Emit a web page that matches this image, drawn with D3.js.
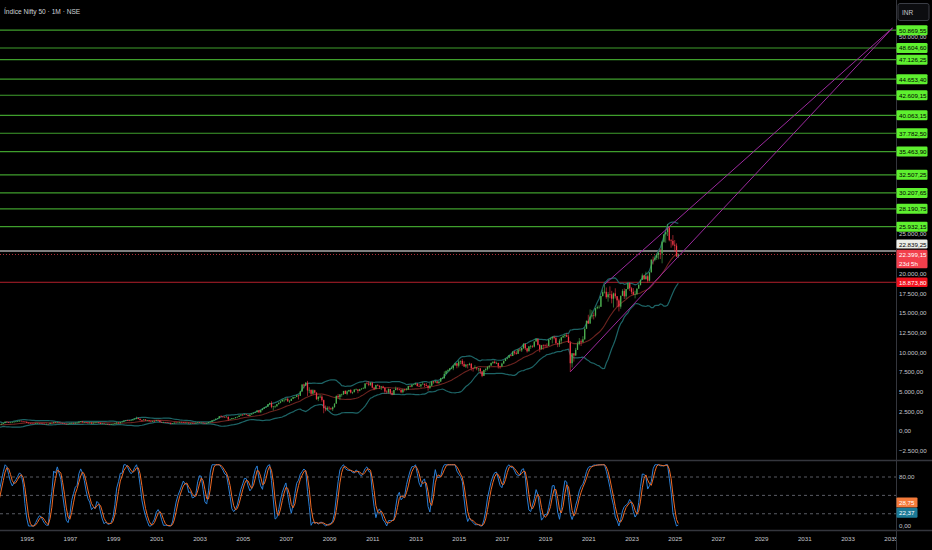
<!DOCTYPE html>
<html><head><meta charset="utf-8">
<script src="https://cdn.jsdelivr.net/npm/d3@7"></script>
<style>body{margin:0;background:#000;}svg{display:block;}</style>
</head><body><svg id="c" width="932" height="550"></svg>
<script>
// ---------------- DATA ----------------
const startYear = 1991; // monthly bars, January 1991 onward (early part off-screen)
const closes = [
/*1991*/ 330,365,375,395,410,400,450,505,530,515,545,570,
/*1992*/ 700,900,1250,1280,1000,920,860,790,900,850,770,760,
/*1993*/ 720,740,650,620,650,700,730,770,790,810,920,1030,
/*1994*/ 1180,1150,1050,1080,1110,1170,1200,1240,1290,1250,1200,1180,
/*1995*/ 1050,1000,960,950,930,990,1000,985,975,935,900,908,
/*1996*/ 890,1030,985,1100,1080,1110,1050,1030,950,910,880,900,
/*1997*/ 970,1030,970,1050,1060,1190,1230,1110,1130,1080,980,1080,
/*1998*/ 960,1070,1110,1120,1050,910,950,880,900,870,850,884,
/*1999*/ 900,960,1080,980,1130,1190,1310,1380,1340,1300,1350,1480,
/*2000*/ 1550,1650,1530,1400,1370,1470,1330,1330,1230,1170,1270,1264,
/*2001*/ 1370,1350,1150,1130,1140,1100,1070,1050,910,970,1070,1060,
/*2002*/ 1075,1140,1130,1080,1030,1060,960,1010,960,950,1040,1094,
/*2003*/ 1040,1050,980,930,1010,1130,1180,1350,1420,1560,1620,1880,
/*2004*/ 1810,1800,1770,1800,1480,1510,1630,1630,1750,1790,1960,2080,
/*2005*/ 2060,2100,2035,1900,2090,2220,2310,2385,2600,2370,2650,2837,
/*2006*/ 3000,3075,3400,3560,3070,3130,3140,3410,3590,3750,3950,3966,
/*2007*/ 4080,3750,3820,4090,4300,4320,4530,4460,5020,5900,5760,6139,
/*2008*/ 5140,5220,4730,5170,4870,4040,4330,4360,3920,2890,2760,2959,
/*2009*/ 2870,2760,3020,3470,4450,4290,4640,4660,5080,4710,5030,5201,
/*2010*/ 4880,4920,5250,5280,5090,5310,5370,5400,6030,6020,5860,6135,
/*2011*/ 5500,5330,5830,5750,5560,5650,5480,5000,4940,5330,4830,4624,
/*2012*/ 5200,5390,5300,5250,4920,5280,5230,5260,5700,5620,5880,5905,
/*2013*/ 6030,5690,5680,5930,5990,5840,5740,5470,5740,6300,6180,6304,
/*2014*/ 6090,6280,6700,6700,7230,7610,7720,7950,7960,8320,8590,8283,
/*2015*/ 8810,8900,8490,8180,8430,8370,8530,7970,7950,8070,7940,7946,
/*2016*/ 7560,6990,7740,7850,8160,8290,8640,8790,8610,8630,8220,8186,
/*2017*/ 8560,8880,9170,9300,9620,9520,10080,9920,9790,10340,10230,10531,
/*2018*/ 11030,10490,10110,10740,10740,10710,11360,11680,10930,10390,10880,10863,
/*2019*/ 10830,10790,11620,11750,11920,11790,11120,11020,11470,11880,12060,12168,
/*2020*/ 11960,11200,8600,9860,9580,10300,11070,11390,11250,11640,12970,13982,
/*2021*/ 13630,14530,14690,14630,15580,15720,15760,17130,17620,17670,16980,17354,
/*2022*/ 17340,16790,17460,17100,16580,15780,17160,17760,17090,18010,18760,18105,
/*2023*/ 17660,17300,17360,18070,18530,19190,19750,19250,19640,19080,20130,21731,
/*2024*/ 21730,21980,22330,22600,22530,24010,24950,25240,25810,24210,24130,23645,
/*2025*/ 23510,22125,22399.15
];
const highs = [
/*1991*/ 345,370,390,405,425,420,460,515,545,540,555,580,
/*1992*/ 720,920,1300,1380,1290,1030,950,880,920,920,860,800,
/*1993*/ 780,770,760,670,670,720,750,790,820,830,930,1050,
/*1994*/ 1230,1220,1160,1100,1130,1190,1220,1260,1320,1300,1260,1220,
/*1995*/ 1190,1070,1020,990,960,1000,1030,1020,1010,985,940,940,
/*1996*/ 930,1050,1040,1130,1140,1150,1120,1060,1050,960,920,910,
/*1997*/ 990,1060,1050,1080,1080,1200,1250,1230,1140,1140,1080,1090,
/*1998*/ 1090,1080,1150,1170,1130,1060,990,950,920,900,880,900,
/*1999*/ 930,980,1100,1100,1140,1200,1330,1400,1420,1400,1360,1490,
/*2000*/ 1620,1820,1700,1580,1420,1500,1480,1400,1390,1250,1300,1340,
/*2001*/ 1420,1440,1390,1180,1180,1160,1130,1090,1060,1000,1090,1110,
/*2002*/ 1090,1170,1180,1150,1090,1080,1080,1020,1020,980,1050,1110,
/*2003*/ 1110,1080,1070,990,1020,1140,1200,1360,1450,1570,1630,1900,
/*2004*/ 2010,1880,1850,1910,1850,1560,1650,1660,1760,1850,1970,2090,
/*2005*/ 2120,2120,2180,2070,2100,2240,2330,2400,2640,2670,2680,2850,
/*2006*/ 3020,3110,3420,3600,3780,3140,3250,3420,3610,3800,4000,4050,
/*2007*/ 4170,4250,3930,4100,4320,4340,4620,4550,5060,5930,6010,6190,
/*2008*/ 6360,5550,5270,5300,5230,4910,4450,4650,4560,3990,3240,3150,
/*2009*/ 3150,2970,3120,3520,4510,4700,4670,4740,5090,5180,5140,5220,
/*2010*/ 5310,4990,5330,5400,5280,5350,5450,5550,6070,6290,6340,6150,
/*2011*/ 6180,5600,5870,5950,5780,5700,5740,5550,5170,5400,5330,5100,
/*2012*/ 5220,5630,5500,5380,5280,5290,5350,5450,5740,5820,5890,5960,
/*2013*/ 6110,6050,5970,5960,6230,6010,6090,5810,6140,6310,6340,6420,
/*2014*/ 6360,6290,6750,6870,7560,7700,7840,7970,8180,8330,8620,8630,
/*2015*/ 8990,8940,9120,8850,8490,8470,8660,8620,8060,8340,8120,7980,
/*2016*/ 7970,7600,7780,7980,8180,8310,8680,8820,8970,8810,8670,8280,
/*2017*/ 8670,8980,9220,9370,9650,9710,10110,10140,10180,10370,10490,10550,
/*2018*/ 11170,11120,10530,10760,10930,10890,11370,11760,11750,11030,10920,10990,
/*2019*/ 10990,11120,11630,11860,12040,12100,11980,11180,11700,11950,12160,12290,
/*2020*/ 12430,12250,11430,9890,9600,10550,11340,11800,11620,12030,13150,14020,
/*2021*/ 14750,15430,15340,15040,15610,15920,15960,17150,17950,18600,18210,17640,
/*2022*/ 18350,17790,17560,18110,17130,16790,17170,17990,18100,18020,18820,18890,
/*2023*/ 18250,18130,17800,18090,18660,19200,19990,19800,20220,19850,20160,21800,
/*2024*/ 22130,22300,22530,22790,23110,24170,24990,25270,26280,25910,24350,24860,
/*2025*/ 24230,23810,22500
];
const lows = [
/*1991*/ 300,325,355,365,390,385,395,445,495,500,505,535,
/*1992*/ 565,690,880,1100,960,860,820,760,780,820,750,720,
/*1993*/ 700,700,630,600,610,640,690,720,760,770,800,910,
/*1994*/ 1020,1100,1000,1020,1050,1100,1150,1180,1220,1220,1180,1130,
/*1995*/ 1020,960,940,900,880,910,970,960,950,920,860,870,
/*1996*/ 860,880,960,980,1040,1070,1030,1000,940,880,860,870,
/*1997*/ 890,960,950,900,1030,1050,1170,1080,1080,1050,950,970,
/*1998*/ 890,950,1060,1080,960,880,880,860,850,830,810,840,
/*1999*/ 860,880,950,930,970,1100,1180,1290,1300,1250,1260,1340,
/*2000*/ 1440,1490,1480,1310,1220,1350,1310,1250,1200,1100,1150,1220,
/*2001*/ 1260,1300,1080,1080,1100,1080,1040,1030,850,900,960,1040,
/*2002*/ 1030,1070,1110,1050,980,1020,950,950,950,920,945,1040,
/*2003*/ 1030,1020,970,920,930,1000,1120,1180,1320,1410,1520,1600,
/*2004*/ 1750,1730,1690,1770,1290,1440,1480,1580,1610,1740,1780,1930,
/*2005*/ 1900,2050,2000,1900,1900,2090,2200,2280,2380,2310,2340,2630,
/*2006*/ 2830,2920,3060,3330,2890,2600,2900,3080,3370,3520,3740,3650,
/*2007*/ 3850,3740,3550,3810,4050,4160,4300,4000,4440,4990,5400,5700,
/*2008*/ 4450,4800,4470,4650,4760,3950,3790,4180,3720,2250,2500,2570,
/*2009*/ 2660,2700,2540,2970,3480,4140,3920,4350,4570,4690,4540,4940,
/*2010*/ 4770,4680,4930,5160,4790,5040,5230,5350,5400,5940,5690,5720,
/*2011*/ 5410,5180,5350,5690,5330,5200,5440,4720,4760,4730,4640,4530,
/*2012*/ 4590,5160,5140,5150,4790,4770,5030,5160,5220,5550,5550,5820,
/*2013*/ 5880,5660,5600,5480,5910,5570,5680,5120,5320,5700,6000,6130,
/*2014*/ 5990,5930,6210,6650,6640,7240,7420,7550,7840,7720,8290,7960,
/*2015*/ 8070,8470,8270,8140,8000,7940,8320,7670,7540,7930,7710,7550,
/*2016*/ 7240,6830,7040,7520,7680,7930,8280,8520,8560,8510,7920,7900,
/*2017*/ 8130,8540,8860,9080,9270,9450,9540,9690,9690,9830,10090,10030,
/*2018*/ 10400,10280,9950,10110,10420,10550,10600,11340,10850,10000,10340,10330,
/*2019*/ 10580,10580,10820,11550,11110,11620,11100,10640,10670,11090,11800,11830,
/*2020*/ 11930,11180,7511,8060,8810,9540,10300,10880,10790,11350,11560,12960,
/*2021*/ 13600,13660,14260,14150,14420,15450,15510,15830,17060,17450,16780,16410,
/*2022*/ 16840,16200,15670,16820,15740,15180,15510,17150,16750,16750,17960,17770,
/*2023*/ 17350,17260,16830,17310,18040,18460,19300,19220,19250,18840,18970,20180,
/*2024*/ 21140,21530,21710,21780,21820,21280,23890,23890,24750,24070,23260,23460,
/*2025*/ 22790,22100,21960
];
const levels = [50869.55,48604.60,47126.25,44653.40,42609.15,40063.15,37782.50,35463.90,32507.25,30207.65,28190.75,25932.15];
const refLevel = 22839.25;
const lastPrice = 22399.15;
const supportLevel = 18873.80;
const countdown = "23d 5h";
const priceTicks = d3.range(-2500, 50001, 2500);
const yearTicks = d3.range(1995, 2036, 2);
const oscTicks = [80, 0];
const oscGuides = [80, 50, 20];
const stochLastD = 28.75, stochLastK = 22.37;
// channel anchor points: [year, month, price]
const channelLower = [[2020,3,7511],[2035,2,51150]];
const channelUpper = [[2021,10,18604],[2035,2,51150]];
const title = "Índice Nifty 50 · 1M · NSE";

// ---------------- SETUP ----------------
const W = 932, H = 550, plotR = 896;
const svg = d3.select("#c");
const FONT = "'Liberation Sans', Arial, sans-serif";
const loc = d3.formatLocale({decimal:",", thousands:".", grouping:[3], currency:["",""]});
const fmt = loc.format(",.2f");

svg.append("rect").attr("width",W).attr("height",H).attr("fill","#000");

const mi = (y,m) => (y-1995)*12 + (m-1);
const x = d3.scaleLinear().domain([0,480]).range([26.7, 890.7]);
const y = d3.scaleLinear().domain([0,50000]).range([431,37]);
const yo = d3.scaleLinear().domain([0,100]).range([526,464.75]);

const defs = svg.append("defs");
defs.append("clipPath").attr("id","cp").append("rect").attr("x",0).attr("y",0).attr("width",plotR).attr("height",459);
defs.append("clipPath").attr("id","co").append("rect").attr("x",0).attr("y",462).attr("width",plotR).attr("height",68);
defs.append("clipPath").attr("id","cx").append("rect").attr("x",0).attr("y",531).attr("width",plotR).attr("height",19);

const bars = closes.map((c,i)=>{
  const o = i===0 ? c : closes[i-1];
  return {i: (startYear-1995)*12 + i, o, c, h: Math.max(highs[i],o,c), l: Math.min(lows[i],o,c)};
});

// indicators
function smaN(arr,n){return arr.map((_,i)=>{ if(i<n-1) return null; const w=arr.slice(i-n+1,i+1); if(w.some(v=>v==null)) return null; return d3.mean(w);});}
function stdN(arr,n){return arr.map((_,i)=>{ if(i<n-1) return null; const w=arr.slice(i-n+1,i+1); const m=d3.mean(w); return Math.sqrt(d3.mean(w,v=>(v-m)*(v-m)));});}
const basis = smaN(closes,20), sd = stdN(closes,20);
const upper = basis.map((b,i)=>b==null?null:b+2*sd[i]);
const lower = basis.map((b,i)=>b==null?null:b-2*sd[i]);
function rsi(c,n){const out=Array(c.length).fill(null);let ag=0,al=0;
  for(let i=1;i<c.length;i++){const ch=c[i]-c[i-1],g=Math.max(ch,0),l=Math.max(-ch,0);
    if(i<=n){ag+=g/n;al+=l/n; if(i===n) out[i]=al===0?100:100-100/(1+ag/al);}
    else {ag=(ag*(n-1)+g)/n;al=(al*(n-1)+l)/n; out[i]=al===0?100:100-100/(1+ag/al);}}
  return out;}
const r = rsi(closes,14);
const st = r.map((v,i)=>{ if(i<13) return null; const w=r.slice(i-13,i+1); if(w.some(q=>q==null)) return null; const mn=d3.min(w),mx=d3.max(w); return mx===mn?0:100*(v-mn)/(mx-mn);});
const K = smaN(st,3), D = smaN(K,3);

// ---------------- PRICE PANE ----------------
const gp = svg.append("g").attr("clip-path","url(#cp)");
levels.forEach(v=>{
  gp.append("line").attr("x1",0).attr("x2",plotR).attr("y1",y(v)).attr("y2",y(v)).attr("stroke","#3f9e2c").attr("stroke-width",1.2);
});
gp.append("line").attr("x1",0).attr("x2",plotR).attr("y1",y(refLevel)).attr("y2",y(refLevel)).attr("stroke","#a9a9a9").attr("stroke-width",1.6);
gp.append("line").attr("x1",0).attr("x2",plotR).attr("y1",y(lastPrice)).attr("y2",y(lastPrice)).attr("stroke","#e03a48").attr("stroke-width",0.8).attr("stroke-dasharray","1,2");
gp.append("line").attr("x1",0).attr("x2",plotR).attr("y1",y(supportLevel)).attr("y2",y(supportLevel)).attr("stroke","#b3202c").attr("stroke-width",1);

// bollinger
const lineB = arr => d3.line().defined((d,i)=>arr[i]!=null).x((d,i)=>x(bars[i].i)).y((d,i)=>y(arr[i]))(arr);
gp.append("path").attr("d",lineB(basis)).attr("fill","none").attr("stroke","#6e2420").attr("stroke-width",1.1);
gp.append("path").attr("d",lineB(upper)).attr("fill","none").attr("stroke","#1d6466").attr("stroke-width",1.2);
gp.append("path").attr("d",lineB(lower)).attr("fill","none").attr("stroke","#1d6466").attr("stroke-width",1.2);

// candles
const up="#4caf50", dn="#f23645";
gp.selectAll("line.w").data(bars).join("line").attr("class","w")
  .attr("x1",d=>x(d.i)).attr("x2",d=>x(d.i)).attr("y1",d=>y(d.h)).attr("y2",d=>y(d.l))
  .attr("stroke",d=>d.c>=d.o?up:dn).attr("stroke-width",0.6);
gp.selectAll("rect.b").data(bars).join("rect").attr("class","b")
  .attr("x",d=>x(d.i)-0.65).attr("width",1.3)
  .attr("y",d=>y(Math.max(d.o,d.c))).attr("height",d=>Math.max(0.6,Math.abs(y(d.o)-y(d.c))))
  .attr("fill",d=>d.c>=d.o?up:dn);

// channel lines
[channelLower, channelUpper].forEach(ch=>{
  gp.append("line").attr("x1",x(mi(ch[0][0],ch[0][1]))).attr("y1",y(ch[0][2]))
    .attr("x2",x(mi(ch[1][0],ch[1][1]))).attr("y2",y(ch[1][2]))
    .attr("stroke","#9c2a9e").attr("stroke-width",1);
});

// ---------------- OSC PANE ----------------
const go = svg.append("g").attr("clip-path","url(#co)");
oscGuides.forEach(v=>{
  go.append("line").attr("x1",0).attr("x2",plotR).attr("y1",yo(v)).attr("y2",yo(v)).attr("stroke","#6f727c").attr("stroke-width",0.8).attr("stroke-dasharray","3,3");
});
const lineO = arr => d3.line().defined((d,i)=>arr[i]!=null).x((d,i)=>x(bars[i].i)).y((d,i)=>yo(arr[i]))(arr);
go.append("path").attr("d",lineO(K)).attr("fill","none").attr("stroke","#2a7fd6").attr("stroke-width",1);
go.append("path").attr("d",lineO(D)).attr("fill","none").attr("stroke","#f06a24").attr("stroke-width",1);

// separators
svg.append("line").attr("x1",0).attr("x2",W).attr("y1",460.5).attr("y2",460.5).attr("stroke","#34363d").attr("stroke-width",1.6);
svg.append("line").attr("x1",0).attr("x2",W).attr("y1",530.5).attr("y2",530.5).attr("stroke","#34363d").attr("stroke-width",1.6);
svg.append("line").attr("x1",plotR+0.5).attr("x2",plotR+0.5).attr("y1",0).attr("y2",H).attr("stroke","#34363d").attr("stroke-width",1);

// ---------------- AXES ----------------
const txtCol = "#c4c6cc";
const axWrap = svg.append("g").attr("clip-path","url(#cx)");
const ax = axWrap.append("g").attr("transform","translate(0,531)")
  .call(d3.axisBottom(x).tickValues(yearTicks.map(yy=>mi(yy,1))).tickFormat(v=>String(Math.round(1995+v/12))).tickSize(0).tickPadding(6));
ax.select(".domain").remove();
ax.selectAll("text").attr("fill",txtCol).attr("font-family",FONT).attr("font-size",6.2);

// hide price ticks hidden behind label boxes (as the platform does)
const boxSpans = levels.map(v=>[y(v)-5,y(v)+5])
  .concat([[y(refLevel)-11.5,y(refLevel)-2.5],[y(lastPrice)-4.75,y(lastPrice)+13.75],[y(supportLevel)-4.75,y(supportLevel)+4.75]]);
const visibleTicks = priceTicks.filter(t=>{
  const ty=y(t); return !boxSpans.some(([a,b])=> ty>a-1.8 && ty<b+1.8);
});
const ay = svg.append("g").attr("transform",`translate(${plotR+3},0)`)
  .call(d3.axisRight(y).tickValues(visibleTicks).tickFormat(fmt).tickSize(0).tickPadding(0));
ay.select(".domain").remove();
ay.selectAll("text").attr("fill",txtCol).attr("font-family",FONT).attr("font-size",6.2);

const ayo = svg.append("g").attr("transform",`translate(${plotR+3},0)`)
  .call(d3.axisRight(yo).tickValues(oscTicks).tickFormat(fmt).tickSize(0).tickPadding(0));
ayo.select(".domain").remove();
ayo.selectAll("text").attr("fill",txtCol).attr("font-family",FONT).attr("font-size",6.2);

// ---------------- LABEL BOXES ----------------
function box(yc, h, fill, lines, color, w){
  svg.append("rect").attr("x",plotR+0.5).attr("y",yc-h/2).attr("width",w||31).attr("height",h).attr("fill",fill).attr("rx",1.2);
  lines.forEach((t,k)=>{
    svg.append("text").attr("x",plotR+3).attr("y",yc-h/2+7.4+k*8.6).text(t)
      .attr("fill",color).attr("font-family",FONT).attr("font-size",6.2);
  });
}
levels.forEach(v=> box(y(v), 10, "#5ef02f", [fmt(v)], "#000"));
box(y(refLevel)-7, 9, "#eceee8", [fmt(refLevel)], "#000");
box(y(lastPrice)+4.5, 18.5, "#f23f4c", [fmt(lastPrice), countdown], "#fff");
box(y(supportLevel), 9.5, "#f2111d", [fmt(supportLevel)], "#fff");
box(yo(stochLastD)-6, 10, "#f47a3a", [fmt(stochLastD)], "#fff", 21);
box(yo(stochLastK)+0.5, 10, "#1c7a96", [fmt(stochLastK)], "#fff", 21);

// INR box
svg.append("rect").attr("x",plotR+2).attr("y",3.5).attr("width",31).attr("height",17).attr("rx",2).attr("fill","#0c0d10").attr("stroke","#3a3d45");
svg.append("text").attr("x",plotR+6).attr("y",14.5).text("INR").attr("fill","#c4c6cc").attr("font-family",FONT).attr("font-size",6.5);

// title
svg.append("text").attr("x",4).attr("y",14).text(title).attr("fill","#cfd1d6").attr("font-family",FONT).attr("font-size",6.6);
</script></body></html>
